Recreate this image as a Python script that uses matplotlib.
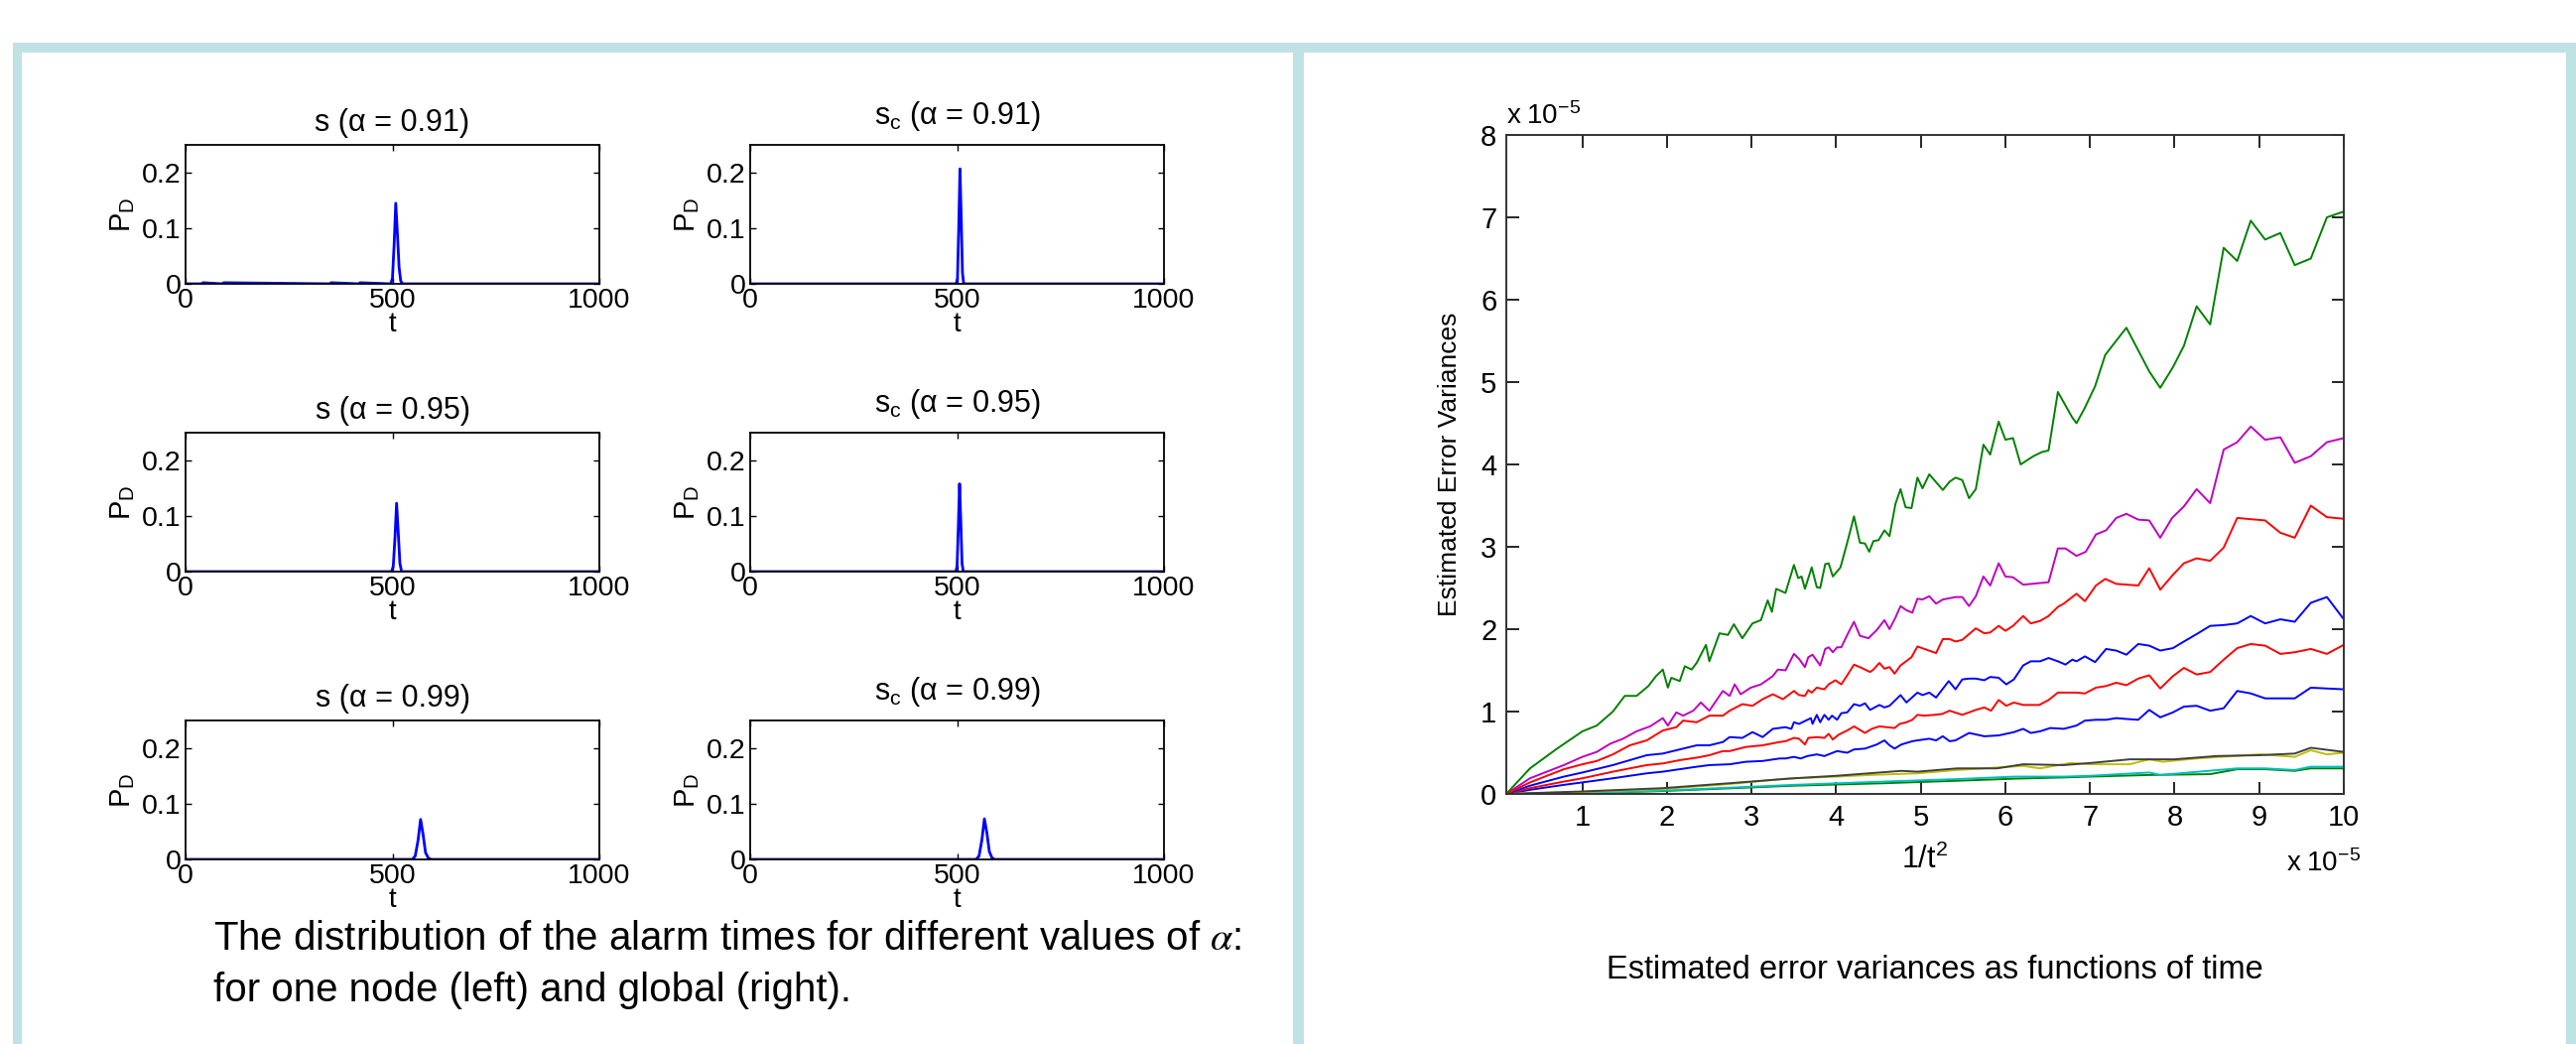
import matplotlib
matplotlib.use("Agg")
import matplotlib.pyplot as plt
from matplotlib.patches import Rectangle

plt.rcParams['font.family'] = ['Liberation Sans', 'DejaVu Sans']
plt.rcParams['mathtext.fontset'] = 'stix'

W, H = 2596, 1052

# --- left panel: alarm time distributions ---
titles_left = ["s (\u03b1 = 0.91)", "s (\u03b1 = 0.95)", "s (\u03b1 = 0.99)"]
titles_right = ["$\\mathregular{s_c}$ (\u03b1 = 0.91)", "$\\mathregular{s_c}$ (\u03b1 = 0.95)",
                "$\\mathregular{s_c}$ (\u03b1 = 0.99)"]

t_s091 = [0, 40, 42, 90, 92, 350, 352, 420, 422, 496, 500, 504, 508, 512, 516, 520, 525, 1000]
pd_s091 = [0, 0, 0.002, 0, 0.002, 0, 0.002, 0, 0.002, 0, 0.01, 0.07, 0.145, 0.09, 0.03, 0.005, 0, 0]
t_sc091 = [0, 498, 501, 504, 507, 510, 513, 516, 1000]
pd_sc091 = [0, 0, 0.01, 0.10, 0.207, 0.12, 0.02, 0, 0]
t_s095 = [0, 498, 502, 506, 510, 514, 518, 522, 1000]
pd_s095 = [0, 0, 0.01, 0.06, 0.123, 0.07, 0.015, 0, 0]
t_sc095 = [0, 497, 500, 503, 506, 509, 512, 515, 1000]
pd_sc095 = [0, 0, 0.01, 0.08, 0.158, 0.09, 0.015, 0, 0]
t_s099 = [0, 548, 555, 562, 568, 574, 580, 587, 594, 1000]
pd_s099 = [0, 0, 0.006, 0.035, 0.072, 0.045, 0.012, 0.002, 0, 0]
t_sc099 = [0, 546, 553, 560, 566, 572, 578, 585, 592, 1000]
pd_sc099 = [0, 0, 0.006, 0.035, 0.073, 0.048, 0.014, 0.002, 0, 0]

left_t = [t_s091, t_s095, t_s099]
left_pd = [pd_s091, pd_s095, pd_s099]
right_t = [t_sc091, t_sc095, t_sc099]
right_pd = [pd_sc091, pd_sc095, pd_sc099]

# --- right panel: estimated error variances (x in 1e-5, y in 1e-5) ---
x_g1 = [0.1, 0.38, 0.70, 1.0, 1.17, 1.36, 1.50, 1.64, 1.78, 1.87,
        1.95, 2.01, 2.05, 2.15, 2.21, 2.29, 2.35, 2.46, 2.50, 2.62,
        2.72, 2.79, 2.89, 3.01, 3.11, 3.19, 3.24, 3.29, 3.40, 3.50,
        3.55, 3.59, 3.63, 3.71, 3.77, 3.81, 3.87, 3.91, 3.96, 4.05,
        4.13, 4.21, 4.28, 4.34, 4.39, 4.44, 4.50, 4.57, 4.63, 4.70,
        4.76, 4.82, 4.89, 4.96, 5.02, 5.10, 5.26, 5.34, 5.41, 5.49,
        5.57, 5.65, 5.74, 5.82, 5.92, 6.00, 6.09, 6.18, 6.33, 6.43,
        6.51, 6.62, 6.79, 6.84, 6.94, 7.06, 7.18, 7.43, 7.70, 7.83,
        7.98, 8.11, 8.26, 8.42, 8.58, 8.74, 8.90, 9.07, 9.25, 9.42,
        9.61, 9.80, 10.0]
y_g1 = [0, 0.31, 0.55, 0.76, 0.83, 1.0, 1.19, 1.19, 1.31, 1.43,
        1.51, 1.29, 1.41, 1.37, 1.55, 1.51, 1.59, 1.81, 1.61, 1.95,
        1.93, 2.06, 1.89, 2.07, 2.11, 2.35, 2.21, 2.49, 2.44, 2.78,
        2.62, 2.64, 2.49, 2.75, 2.51, 2.50, 2.79, 2.80, 2.64, 2.75,
        3.05, 3.37, 3.05, 3.04, 2.94, 3.07, 3.08, 3.20, 3.13, 3.52,
        3.70, 3.48, 3.47, 3.84, 3.71, 3.88, 3.69, 3.79, 3.84, 3.81,
        3.59, 3.70, 4.24, 4.12, 4.52, 4.30, 4.32, 4.00, 4.10, 4.15,
        4.17, 4.88, 4.57, 4.50, 4.69, 4.95, 5.33, 5.66, 5.13, 4.93,
        5.18, 5.44, 5.92, 5.70, 6.63, 6.47, 6.96, 6.73, 6.81, 6.42,
        6.50, 7.00, 7.07]

x_m = [0.1, 0.38, 0.78, 1.0, 1.17, 1.33, 1.48, 1.64, 1.80, 1.95,
       2.01, 2.11, 2.19, 2.31, 2.40, 2.50, 2.66, 2.74, 2.80, 2.87,
       2.99, 3.11, 3.25, 3.31, 3.40, 3.50, 3.56, 3.63, 3.67, 3.72,
       3.81, 3.87, 3.91, 3.96, 4.01, 4.06, 4.13, 4.21, 4.28, 4.38,
       4.48, 4.57, 4.63, 4.70, 4.76, 4.83, 4.90, 4.96, 5.02, 5.10,
       5.18, 5.26, 5.41, 5.49, 5.57, 5.65, 5.74, 5.82, 5.92, 6.00,
       6.09, 6.21, 6.51, 6.62, 6.71, 6.84, 6.95, 7.07, 7.19, 7.31,
       7.43, 7.57, 7.70, 7.83, 7.97, 8.11, 8.26, 8.42, 8.58, 8.74,
       8.90, 9.07, 9.25, 9.42, 9.61, 9.80, 10.0]
y_m = [0, 0.19, 0.35, 0.45, 0.51, 0.61, 0.67, 0.76, 0.82, 0.92,
       0.83, 0.99, 0.95, 1.01, 1.11, 1.01, 1.25, 1.19, 1.33, 1.21,
       1.29, 1.33, 1.43, 1.51, 1.50, 1.70, 1.64, 1.54, 1.66, 1.69,
       1.56, 1.76, 1.78, 1.72, 1.78, 1.78, 1.93, 2.09, 1.92, 1.89,
       1.99, 2.11, 2.00, 2.14, 2.28, 2.23, 2.20, 2.37, 2.36, 2.40,
       2.31, 2.36, 2.39, 2.39, 2.28, 2.40, 2.64, 2.53, 2.80, 2.64,
       2.63, 2.54, 2.57, 2.98, 2.98, 2.89, 2.94, 3.15, 3.20, 3.35,
       3.40, 3.33, 3.32, 3.11, 3.35, 3.49, 3.70, 3.53, 4.18, 4.27,
       4.46, 4.30, 4.33, 4.02, 4.10, 4.27, 4.32]

x_r1 = [0.1, 0.38, 0.78, 1.0, 1.17, 1.36, 1.56, 1.76, 1.95, 2.11,
        2.19, 2.35, 2.50, 2.66, 2.74, 2.89, 3.01, 3.13, 3.25, 3.37,
        3.50, 3.56, 3.63, 3.67, 3.71, 3.77, 3.86, 3.91, 3.99, 4.06,
        4.13, 4.21, 4.30, 4.40, 4.44, 4.51, 4.57, 4.63, 4.69, 4.76,
        4.89, 4.96, 5.18, 5.26, 5.34, 5.41, 5.49, 5.65, 5.75, 5.82,
        5.92, 6.00, 6.09, 6.21, 6.30, 6.41, 6.51, 6.62, 6.69, 6.84,
        6.94, 7.07, 7.18, 7.31, 7.57, 7.70, 7.83, 7.98, 8.11, 8.26,
        8.42, 8.58, 8.74, 9.07, 9.25, 9.42, 9.61, 9.80, 10.0]
y_r1 = [0, 0.14, 0.30, 0.36, 0.40, 0.48, 0.59, 0.65, 0.77, 0.81,
        0.89, 0.87, 0.95, 0.95, 1.01, 1.09, 1.07, 1.15, 1.21, 1.15,
        1.25, 1.20, 1.19, 1.26, 1.23, 1.29, 1.27, 1.33, 1.38, 1.33,
        1.44, 1.57, 1.53, 1.48, 1.51, 1.59, 1.52, 1.54, 1.46, 1.56,
        1.66, 1.79, 1.71, 1.88, 1.88, 1.85, 1.87, 2.01, 1.95, 1.96,
        2.04, 1.98, 2.04, 2.16, 2.07, 2.10, 2.16, 2.27, 2.31, 2.43,
        2.34, 2.53, 2.61, 2.55, 2.53, 2.74, 2.48, 2.66, 2.80, 2.86,
        2.83, 2.99, 3.35, 3.32, 3.17, 3.11, 3.50, 3.36, 3.34]

x_b1 = [0.1, 0.38, 0.78, 1.0, 1.36, 1.76, 1.95, 2.15, 2.35, 2.50,
        2.66, 2.74, 2.89, 3.01, 3.13, 3.25, 3.40, 3.47, 3.50, 3.56,
        3.70, 3.72, 3.77, 3.81, 3.86, 3.91, 3.95, 4.01, 4.06, 4.13,
        4.21, 4.28, 4.34, 4.40, 4.51, 4.57, 4.63, 4.76, 4.83, 4.96,
        5.02, 5.10, 5.18, 5.33, 5.41, 5.49, 5.57, 5.65, 5.75, 5.82,
        5.92, 6.01, 6.10, 6.21, 6.30, 6.41, 6.51, 6.62, 6.71, 6.79,
        6.84, 6.94, 7.06, 7.19, 7.31, 7.43, 7.57, 7.70, 7.83, 7.98,
        8.11, 8.26, 8.42, 8.58, 8.74, 8.90, 9.07, 9.25, 9.42, 9.61,
        9.80, 10.0]
y_b1 = [0, 0.10, 0.21, 0.26, 0.35, 0.47, 0.49, 0.54, 0.59, 0.59,
        0.63, 0.69, 0.68, 0.75, 0.69, 0.79, 0.81, 0.79, 0.87, 0.85,
        0.92, 0.85, 0.96, 0.87, 0.96, 0.90, 0.95, 0.90, 0.98, 0.99,
        1.09, 1.07, 1.10, 1.02, 1.08, 1.05, 1.07, 1.20, 1.11, 1.23,
        1.20, 1.23, 1.17, 1.37, 1.27, 1.39, 1.40, 1.40, 1.38, 1.42,
        1.41, 1.33, 1.39, 1.56, 1.61, 1.61, 1.65, 1.61, 1.57, 1.63,
        1.61, 1.67, 1.60, 1.76, 1.74, 1.69, 1.82, 1.80, 1.74, 1.77,
        1.85, 1.94, 2.04, 2.05, 2.07, 2.16, 2.07, 2.12, 2.09, 2.32,
        2.39, 2.12]

x_r2 = [0.1, 0.38, 0.78, 1.0, 1.36, 1.76, 1.95, 2.15, 2.35, 2.50,
        2.66, 2.74, 2.93, 3.13, 3.33, 3.40, 3.50, 3.56, 3.63, 3.67,
        3.77, 3.86, 3.91, 3.96, 4.03, 4.13, 4.21, 4.34, 4.42, 4.51,
        4.69, 4.75, 4.83, 4.90, 4.96, 5.04, 5.16, 5.25, 5.34, 5.49,
        5.65, 5.75, 5.83, 5.92, 6.01, 6.10, 6.21, 6.40, 6.51, 6.62,
        6.79, 6.84, 6.94, 7.07, 7.19, 7.31, 7.43, 7.57, 7.70, 7.83,
        7.98, 8.11, 8.26, 8.42, 8.58, 8.74, 8.90, 9.07, 9.25, 9.42,
        9.61, 9.80, 10.0]
y_r2 = [0, 0.07, 0.15, 0.19, 0.27, 0.35, 0.37, 0.41, 0.44, 0.47,
        0.52, 0.52, 0.57, 0.59, 0.63, 0.64, 0.68, 0.67, 0.60, 0.68,
        0.69, 0.68, 0.73, 0.66, 0.72, 0.77, 0.82, 0.74, 0.79, 0.82,
        0.80, 0.85, 0.87, 0.90, 0.96, 0.95, 0.96, 0.97, 1.01, 0.96,
        1.02, 1.05, 1.01, 1.14, 1.07, 1.11, 1.08, 1.08, 1.14, 1.23,
        1.23, 1.23, 1.22, 1.29, 1.31, 1.35, 1.32, 1.40, 1.44, 1.28,
        1.43, 1.53, 1.45, 1.48, 1.63, 1.77, 1.82, 1.80, 1.70, 1.72,
        1.76, 1.70, 1.81]

x_b2 = [0.1, 0.38, 0.78, 1.0, 1.36, 1.76, 1.95, 2.15, 2.35, 2.50,
        2.74, 2.93, 3.13, 3.33, 3.40, 3.50, 3.58, 3.66, 3.77, 3.86,
        4.01, 4.13, 4.21, 4.34, 4.48, 4.57, 4.63, 4.69, 4.77, 4.90,
        4.96, 5.10, 5.18, 5.26, 5.34, 5.41, 5.57, 5.75, 5.92, 6.10,
        6.21, 6.30, 6.41, 6.53, 6.69, 6.84, 6.94, 7.07, 7.19, 7.31,
        7.43, 7.57, 7.70, 7.83, 7.98, 8.11, 8.26, 8.42, 8.58, 8.74,
        8.90, 9.07, 9.25, 9.42, 9.61, 9.80, 10.0]
y_b2 = [0, 0.05, 0.11, 0.14, 0.19, 0.25, 0.27, 0.30, 0.33, 0.35,
        0.36, 0.39, 0.40, 0.43, 0.43, 0.45, 0.43, 0.46, 0.48, 0.46,
        0.52, 0.50, 0.54, 0.55, 0.60, 0.65, 0.59, 0.55, 0.60, 0.64,
        0.65, 0.67, 0.65, 0.70, 0.64, 0.65, 0.74, 0.70, 0.71, 0.75,
        0.79, 0.74, 0.76, 0.80, 0.79, 0.83, 0.89, 0.90, 0.90, 0.92,
        0.91, 0.90, 1.02, 0.93, 0.99, 1.06, 1.07, 1.01, 1.04, 1.25,
        1.22, 1.16, 1.16, 1.16, 1.29, 1.28, 1.27]

x_k = [0.1, 1.0, 1.95, 2.74, 3.50, 4.0, 4.77, 4.96, 5.43, 5.9,
       6.21, 6.69, 7.0, 7.47, 8.0, 8.5, 9.0, 9.42, 9.61, 10.0]
y_k = [0, 0.03, 0.07, 0.13, 0.19, 0.22, 0.28, 0.27, 0.31, 0.31,
       0.36, 0.35, 0.375, 0.42, 0.42, 0.46, 0.47, 0.49, 0.56, 0.51]

x_y = [0.1, 1.0, 1.95, 2.74, 3.40, 4.0, 4.4, 4.96, 5.43, 6.21,
       6.41, 6.77, 7.0, 7.47, 7.70, 7.86, 8.25, 9.0, 9.42, 9.61,
       9.80, 10.0]
y_y = [0, 0.025, 0.06, 0.12, 0.185, 0.21, 0.23, 0.25, 0.29, 0.34,
       0.31, 0.375, 0.36, 0.36, 0.42, 0.39, 0.43, 0.48, 0.45, 0.53,
       0.48, 0.50]

x_c = [0.1, 1.0, 1.95, 3.50, 4.57, 5.43, 6.1, 6.69, 7.0, 7.70,
       7.83, 8.74, 9.07, 9.42, 9.61, 10.0]
y_c = [0, 0.01, 0.04, 0.11, 0.15, 0.18, 0.21, 0.21, 0.22, 0.26,
       0.23, 0.31, 0.31, 0.29, 0.33, 0.33]

x_g2 = [0.1, 1.0, 1.95, 3.50, 4.57, 5.43, 6.1, 6.69, 7.0, 7.70,
        8.42, 8.74, 9.07, 9.42, 9.61, 10.0]
y_g2 = [0, 0.008, 0.035, 0.10, 0.13, 0.16, 0.185, 0.20, 0.21, 0.23,
        0.24, 0.30, 0.30, 0.28, 0.31, 0.31]

# matlab default colour order: b g r c m y k b g r
series = [
    (x_b2, y_b2, (0, 0, 1)),
    (x_g2, y_g2, (0, 0.5, 0)),
    (x_r2, y_r2, (1, 0, 0)),
    (x_c, y_c, (0, 0.75, 0.75)),
    (x_m, y_m, (0.75, 0, 0.75)),
    (x_y, y_y, (0.75, 0.75, 0)),
    (x_k, y_k, (0.25, 0.25, 0.25)),
    (x_b1, y_b1, (0, 0, 1)),
    (x_g1, y_g1, (0, 0.5, 0)),
    (x_r1, y_r1, (1, 0, 0)),
]


def fig_rect(x0, y0, x1, y1):
    # pixel box (top-left origin) -> figure fraction rect
    return [x0 / W, 1 - y1 / H, (x1 - x0) / W, (y1 - y0) / H]


fig = plt.figure(figsize=(W / 100, H / 100), dpi=100)

# light blue frames
frame_col = "#bfe2e5"
for x0, y0, x1, y1 in [(13, 43, 2596, 53), (13, 43, 22, 1052),
                       (1303, 43, 1314, 1052), (2586, 43, 2596, 1052)]:
    r = fig_rect(x0, y0, x1, y1)
    fig.patches.append(Rectangle((r[0], r[1]), r[2], r[3], transform=fig.transFigure,
                                 facecolor=frame_col, edgecolor="none"))

row_tops = [146, 436, 726]
col_lefts = [187, 756]
ax_w, ax_h = 417, 140

for i in range(3):
    for j in range(2):
        x0 = col_lefts[j]
        y0 = row_tops[i]
        ax = fig.add_axes(fig_rect(x0, y0, x0 + ax_w, y0 + ax_h))
        if j == 0:
            ax.plot(left_t[i], left_pd[i], color="blue", lw=2)
            ax.set_title(titles_left[i], fontsize=22, pad=10)
        else:
            ax.plot(right_t[i], right_pd[i], color="blue", lw=2)
            ax.set_title(titles_right[i], fontsize=22, pad=15)
        ax.set_xlim(0, 1000)
        ax.set_ylim(0, 0.25)
        ax.set_xticks([0, 500, 1000])
        ax.set_yticks([0, 0.1, 0.2])
        ax.set_yticklabels(["0", "0.1", "0.2"])
        ax.tick_params(direction="in", top=True, right=True, length=4, width=1,
                       labelsize=20.5, pad=3)
        ax.set_xlabel("t", fontsize=20, labelpad=-1.5)
        ax.set_ylabel("$\\mathregular{P_D}$", fontsize=21, labelpad=4)
        for sp in ax.spines.values():
            sp.set_linewidth(1.3)

# right panel
axr = fig.add_axes(fig_rect(1518, 136, 2362, 800))
for xs, ys, col in series:
    axr.plot(xs, ys, color=col, lw=1.4)
axr.set_xlim(0.1, 10)
axr.set_ylim(0, 8)
axr.set_xticks(range(1, 11))
axr.set_yticks(range(0, 9))
axr.tick_params(direction="in", top=True, right=True, length=9, width=1.2,
                labelsize=21, pad=7)
for sp in axr.spines.values():
    sp.set_linewidth(1.4)
    sp.set_color("#333333")
axr.set_xlabel("$\\mathregular{1/t^2}$", fontsize=22, labelpad=9)
axr.set_ylabel("Estimated Error Variances", fontsize=19, labelpad=14)
axr.text(0.0, 1.008, "$\\mathregular{x\\ 10^{-5}}$", transform=axr.transAxes,
         fontsize=20, ha="left", va="bottom")
axr.text(1.02, -0.085, "$\\mathregular{x\\ 10^{-5}}$", transform=axr.transAxes,
         fontsize=20, ha="right", va="top")

# captions
fig.text(215 / W, 1 - 946 / H, "The distribution of the alarm times for different values of $\\alpha$:",
         fontsize=29, ha="left", va="center")
fig.text(215 / W, 1 - 998 / H, "for one node (left) and global (right).",
         fontsize=29, ha="left", va="center")
fig.text(1950 / W, 1 - 978 / H, "Estimated error variances as functions of time",
         fontsize=23.5, ha="center", va="center")

fig.savefig("out.png", dpi=100)
